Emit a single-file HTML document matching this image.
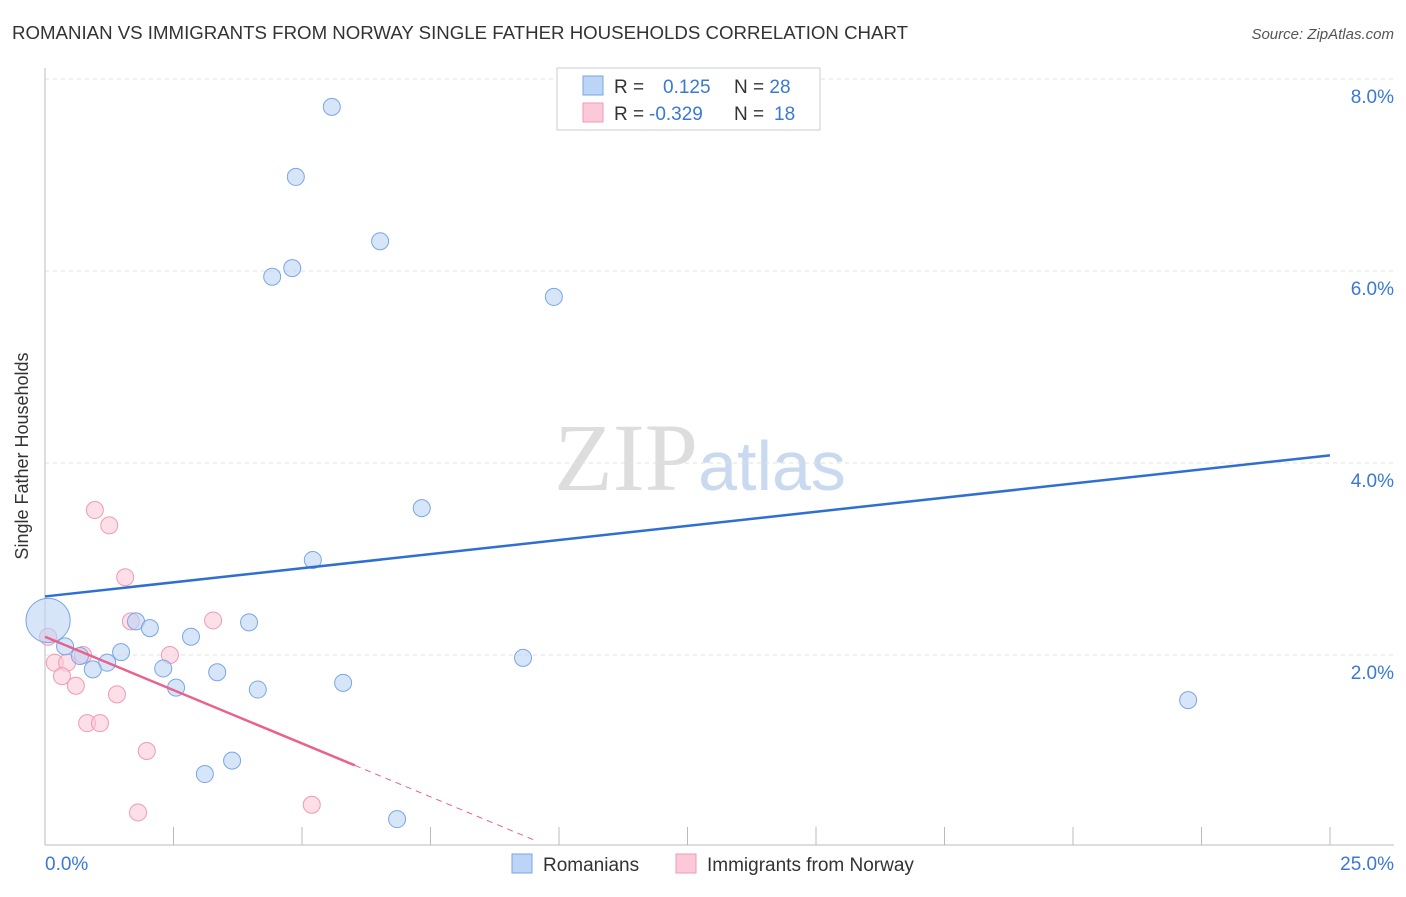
<!DOCTYPE html>
<html><head><meta charset="utf-8"><style>
body{margin:0;background:#fff;font-family:"Liberation Sans",sans-serif;}
#wrap{position:relative;width:1406px;height:892px;}
</style></head><body>
<div id="wrap">
<svg id="svg" width="1406" height="892" xmlns="http://www.w3.org/2000/svg" font-family="Liberation Sans, sans-serif">
<text x="12" y="39" font-size="18" fill="#333" textLength="896" lengthAdjust="spacingAndGlyphs">ROMANIAN VS IMMIGRANTS FROM NORWAY SINGLE FATHER HOUSEHOLDS CORRELATION CHART</text>
<text x="1394" y="39" font-size="15" fill="#555" font-style="italic" text-anchor="end">Source: ZipAtlas.com</text>
<text x="28" y="456" font-size="18" fill="#333" text-anchor="middle" transform="rotate(-90 28 456)">Single Father Households</text>
<text x="700" y="490" font-size="96" fill="#ddd" text-anchor="middle" font-family="Liberation Serif, serif">ZIP<tspan fill="#c9d9f0" font-family="Liberation Sans, sans-serif" font-size="70">atlas</tspan></text>
<g id="grid"></g><g id="marks"></g>
<g>
<rect x="557" y="68" width="263" height="62" fill="#fff" stroke="#ccc"/>
<rect x="583" y="76" width="20" height="19" fill="#bcd4f5" stroke="#7aa6e6"/>
<rect x="583" y="103" width="20" height="19" fill="#fbc9d8" stroke="#f09ab3"/>
<text x="614" y="93" font-size="19" fill="#333">R = <tspan fill="#3a78d4" x="663">0.125</tspan><tspan x="734" fill="#333">N = </tspan><tspan fill="#3a78d4">28</tspan></text>
<text x="614" y="120" font-size="19" fill="#333">R = <tspan fill="#3a78d4" x="649">-0.329</tspan><tspan x="734" fill="#333">N = </tspan><tspan fill="#3a78d4" x="774">18</tspan></text>
</g>
<g>
<rect x="512" y="854" width="20" height="19" fill="#bcd4f5" stroke="#7aa6e6"/>
<text x="543" y="871" font-size="19" fill="#333">Romanians</text>
<rect x="676" y="854" width="20" height="19" fill="#fbc9d8" stroke="#f09ab3"/>
<text x="707" y="871" font-size="19" fill="#333">Immigrants from Norway</text>
</g>
</svg>
</div>
<script>
const blueX=[5.58,4.88,6.52,4.42,4.81,9.90,7.33,5.21,0.06,1.77,2.04,3.97,2.84,0.39,0.68,1.48,1.21,0.93,2.30,3.35,2.55,4.14,5.80,9.30,22.24,3.64,3.11,6.85];
const blueY=[7.71,6.98,6.31,5.94,6.03,5.73,3.53,2.99,2.36,2.35,2.28,2.34,2.19,2.09,1.99,2.03,1.92,1.85,1.86,1.82,1.66,1.64,1.71,1.97,1.53,0.90,0.76,0.29];
const blueSize=[1,1,1,1,1,1,1,1,2.6,1,1,1,1,1,1,1,1,1,1,1,1,1,1,1,1,1,1,1];
const pinkX=[0.97,1.25,1.56,1.67,3.27,0.06,0.74,2.43,0.19,0.43,0.33,0.60,1.40,0.82,1.07,1.98,5.19,1.81];
const pinkY=[3.51,3.35,2.81,2.35,2.36,2.19,2.00,2.00,1.92,1.92,1.78,1.68,1.59,1.29,1.29,1.00,0.44,0.36];
const blueTrend=[2.61,4.08]; // at x=0 and x=25
const pinkTrend=[2.19,0.85,0.07]; // at x=0, 6.03, 9.53
const pinkTrendX=[0,6.03,9.53];
const yTicks=[2,4,6,8];
const yTickLabels=["2.0%","4.0%","6.0%","8.0%"];
const ns="http://www.w3.org/2000/svg";
const X=v=>45+v*1285/25, Y=v=>847-v*96;
function mk(p,t,a){const e=document.createElementNS(ns,t);for(const k in a)e.setAttribute(k,a[k]);p.appendChild(e);return e;}
const g=document.getElementById('grid'), m=document.getElementById('marks');
yTicks.forEach((t,i)=>{
 const l=mk(g,'line',{x1:45,x2:1394,y1:Y(t),y2:Y(t),stroke:'#e2e2e2','stroke-dasharray':'4,4'});
 
 
 const tx=mk(g,'text',{x:1394,y:Y(t)+24,'font-size':19,fill:'#3a78d4','text-anchor':'end'});
 tx.textContent=yTickLabels[i];
 
 
});
const ax=mk(g,'line',{x1:45,x2:1394,y1:845,y2:845,stroke:'#bbb'});


const ay=mk(g,'line',{x1:45,x2:45,y1:68,y2:845,stroke:'#bbb'});


for(let i=0;i<=10;i++){const x=X(i*2.5);mk(g,'line',{x1:x,x2:x,y1:827,y2:845,stroke:'#bbb'});}
[["0.0%",X(0),'start'],["25.0%",X(25)+64,'end']].forEach(a=>{
 const t=mk(g,'text',{x:a[1],y:870,'font-size':19,fill:'#3a78d4','text-anchor':a[2]});t.textContent=a[0];
 
 
});
pinkX.forEach((x,i)=>{
 const c=mk(m,'circle',{cx:X(x),cy:Y(pinkY[i]),r:8.5,fill:'#fbc9d8','fill-opacity':0.6,stroke:'#f09ab3'});
 
 
});
blueX.forEach((x,i)=>{
 const c=mk(m,'circle',{cx:X(x),cy:Y(blueY[i]),r:8.5*blueSize[i],fill:'#bcd4f5','fill-opacity':0.6,stroke:'#7aa6e6'});
 
 
});
const bl=mk(m,'line',{x1:X(0),y1:Y(blueTrend[0]),x2:X(25),y2:Y(blueTrend[1]),stroke:'#2f6fd1','stroke-width':2.5});


const pl=mk(m,'line',{x1:X(pinkTrendX[0]),y1:Y(pinkTrend[0]),x2:X(pinkTrendX[1]),y2:Y(pinkTrend[1]),stroke:'#e8628c','stroke-width':2.5});


const pd=mk(m,'line',{x1:X(pinkTrendX[1]),y1:Y(pinkTrend[1]),x2:X(pinkTrendX[2]),y2:Y(pinkTrend[2]),stroke:'#e8628c','stroke-width':1,'stroke-dasharray':'6,5'});


</script>
</body></html>
